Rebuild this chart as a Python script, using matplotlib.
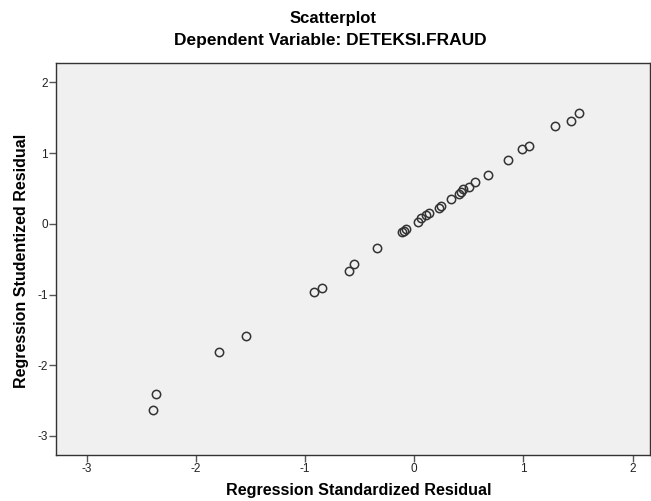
import matplotlib.pyplot as plt

plt.rcParams['font.family'] = ['Liberation Sans', 'DejaVu Sans']
plt.rcParams['axes.unicode_minus'] = False

# residuals
std_resid = [1.507, 1.437, 1.291, 1.053, 0.985, 0.855, 0.674, 0.553, 0.498, 0.449,
             0.427, 0.415, 0.336, 0.248, 0.226, 0.134, 0.104, 0.065, 0.031, -0.072,
             -0.091, -0.109, -0.338, -0.552, -0.594, -0.847, -0.920, -1.543, -1.787,
             -2.366, -2.396]
stud_resid = [1.567, 1.458, 1.382, 1.103, 1.061, 0.901, 0.688, 0.589, 0.523, 0.490,
              0.452, 0.428, 0.348, 0.258, 0.229, 0.150, 0.122, 0.079, 0.023, -0.077,
              -0.096, -0.115, -0.346, -0.568, -0.667, -0.904, -0.969, -1.588, -1.819,
              -2.409, -2.636]
xticks = [-3, -2, -1, 0, 1, 2]
yticks = [-3, -2, -1, 0, 1, 2]

fig = plt.figure(figsize=(6.51, 5.01), dpi=100)
ax = fig.add_axes([56/651, 46/501, 594/651, 392.3/501])
ax.set_facecolor('#f0f0f0')

ax.plot(std_resid, stud_resid, 'o', ms=6, mfc='none', mec='#333333', mew=1.1)

ax.set_xlim(-3.28, 2.16)
ax.set_ylim(-3.27, 2.28)
ax.set_xticks(xticks)
ax.set_yticks(yticks)
ax.tick_params(direction='out', length=5, width=1, color='#555555',
               labelsize=8.5, labelcolor='#222222', pad=1)
for s in ax.spines.values():
    s.set_color('#333333')
    s.set_linewidth(1)

fig.text(333/651, 1-18/501, 'Scatterplot', ha='center', va='center',
         fontsize=12, fontweight='bold')
fig.text(330/651, 1-41/501, 'Dependent Variable: DETEKSI.FRAUD', ha='center',
         va='center', fontsize=12.5, fontweight='bold')
fig.text(359/651, 1-491/501, 'Regression Standardized Residual', ha='center',
         va='center', fontsize=11.6, fontweight='bold')
fig.text(22/651, 1-261/501, 'Regression Studentized Residual', ha='center',
         va='center', rotation=90, fontsize=11.5, fontweight='bold')

fig.savefig('out.png', dpi=100)
